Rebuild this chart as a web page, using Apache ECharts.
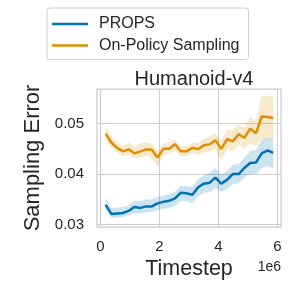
<!DOCTYPE html>
<html>
<head>
<meta charset="utf-8">
<script src="https://cdn.jsdelivr.net/npm/echarts@6/dist/echarts.min.js"></script>
<style>html,body{margin:0;padding:0;background:#fff}#c{width:300px;height:300px}</style>
</head>
<body>
<div id="c"></div>
<script>
// Timesteps (in units of 1e6)
var timesteps = [0.18,0.38,0.57,0.77,0.96,1.16,1.36,1.55,1.75,1.94,2.14,2.34,2.53,2.73,2.92,3.12,3.32,3.51,3.71,3.90,4.10,4.30,4.49,4.69,4.88,5.08,5.28,5.47,5.67,5.86];

var propsMean = [0.0339,0.0321,0.0322,0.0323,0.0327,0.0335,0.0333,0.0336,0.0336,0.0342,0.0345,0.0347,0.0352,0.0363,0.0362,0.0359,0.0374,0.0381,0.0383,0.0393,0.0381,0.0389,0.0400,0.0400,0.0412,0.0422,0.0423,0.0441,0.0447,0.0442];
var propsLow  = [0.0329,0.0313,0.0314,0.0315,0.0318,0.0323,0.0322,0.0324,0.0325,0.0329,0.0331,0.0333,0.0337,0.0347,0.0346,0.0342,0.0355,0.0363,0.0364,0.0372,0.0365,0.0370,0.0380,0.0382,0.0393,0.0400,0.0400,0.0412,0.0415,0.0411];
var propsHigh = [0.0352,0.0333,0.0334,0.0335,0.0338,0.0347,0.0346,0.0350,0.0350,0.0355,0.0357,0.0360,0.0365,0.0377,0.0376,0.0375,0.0390,0.0397,0.0402,0.0412,0.0398,0.0407,0.0418,0.0420,0.0432,0.0445,0.0448,0.0468,0.0472,0.0470];

var onPolicyMean = [0.0480,0.0462,0.0452,0.0445,0.0449,0.0441,0.0445,0.0449,0.0448,0.0433,0.0450,0.0450,0.0459,0.0445,0.0445,0.0452,0.0449,0.0457,0.0459,0.0467,0.0450,0.0469,0.0465,0.0479,0.0472,0.0490,0.0481,0.0514,0.0513,0.0511];
var onPolicyLow  = [0.0467,0.0452,0.0443,0.0436,0.0438,0.0432,0.0433,0.0436,0.0433,0.0414,0.0437,0.0440,0.0446,0.0436,0.0436,0.0442,0.0438,0.0443,0.0444,0.0450,0.0428,0.0450,0.0446,0.0458,0.0450,0.0462,0.0455,0.0470,0.0470,0.0468];
var onPolicyHigh = [0.0493,0.0475,0.0462,0.0455,0.0463,0.0452,0.0462,0.0463,0.0460,0.0446,0.0461,0.0463,0.0468,0.0456,0.0455,0.0462,0.0462,0.0470,0.0475,0.0482,0.0466,0.0488,0.0488,0.0498,0.0492,0.0512,0.0505,0.0555,0.0556,0.0552];

var xTicks = [0, 2, 4, 6];
var yTicks = [0.03, 0.04, 0.05];

var seriesNames = ['PROPS', 'On-Policy Sampling'];
var colors = ['#0173b2', '#de8f05'];
var bandColors = ['rgba(1,115,178,0.2)', 'rgba(222,143,5,0.2)'];

function pairs(xs, ys) { return xs.map(function (x, i) { return [x, ys[i]]; }); }

function bandSeries(low, high, color) {
  return {
    type: 'custom',
    silent: true,
    z: 1,
    data: [[timesteps[0], low[0]]],
    renderItem: function (params, api) {
      var pts = [];
      for (var i = 0; i < timesteps.length; i++) pts.push(api.coord([timesteps[i], high[i]]));
      for (var j = timesteps.length - 1; j >= 0; j--) pts.push(api.coord([timesteps[j], low[j]]));
      return { type: 'polygon', shape: { points: pts }, style: { fill: color } };
    }
  };
}

var textColor = '#262626';
var chart = echarts.init(document.getElementById('c'), null, { renderer: 'canvas' });
chart.setOption({
  animation: false,
  backgroundColor: '#ffffff',
  title: {
    text: 'Humanoid-v4',
    left: 189, top: 64, textAlign: 'center',
    textStyle: { fontFamily: 'Liberation Sans', fontSize: 20, fontWeight: 'normal', color: textColor }
  },
  legend: {
    data: seriesNames,
    orient: 'vertical',
    left: 47, top: 8,
    padding: [7, 9, 5, 5],
    icon: 'rect',
    itemWidth: 36, itemHeight: 2.5, itemGap: 3.6,
    backgroundColor: '#ffffff',
    borderColor: '#cccccc', borderWidth: 1, borderRadius: 3,
    textStyle: { fontFamily: 'Liberation Sans', fontSize: 16, lineHeight: 18, color: textColor, padding: [0, 0, 0, 6] }
  },
  grid: { left: 97, right: 19, top: 89, bottom: 73, show: true, borderColor: '#cccccc', borderWidth: 1.25, backgroundColor: '#ffffff' },
  xAxis: {
    type: 'value', min: -0.112, max: 6.125,
    name: 'Timestep', nameLocation: 'middle', nameGap: 31,
    nameTextStyle: { fontFamily: 'Liberation Sans', fontSize: 21.5, color: textColor },
    axisLine: { show: false }, axisTick: { show: false, customValues: xTicks },
    axisLabel: { customValues: xTicks, margin: 12, fontFamily: 'Liberation Sans', fontSize: 15, color: textColor },
    splitLine: { show: true, lineStyle: { color: '#cccccc', width: 1 } }
  },
  yAxis: {
    type: 'value', min: 0.02952, max: 0.05685,
    name: 'Sampling Error', nameLocation: 'middle', nameGap: 51,
    nameTextStyle: { fontFamily: 'Liberation Sans', fontSize: 22, color: textColor },
    axisLine: { show: false }, axisTick: { show: false, customValues: yTicks },
    axisLabel: { customValues: yTicks, margin: 13, fontFamily: 'Liberation Sans', fontSize: 15, color: textColor,
      formatter: function (v) { return v.toFixed(2); } },
    splitLine: { show: true, lineStyle: { color: '#cccccc', width: 1 } }
  },
  graphic: [{
    type: 'text', right: 19, top: 260,
    style: { text: '1e6', fontFamily: 'Liberation Sans', fontSize: 14, fill: textColor }
  }],
  series: [
    bandSeries(propsLow, propsHigh, bandColors[0]),
    bandSeries(onPolicyLow, onPolicyHigh, bandColors[1]),
    { name: seriesNames[0], type: 'line', data: pairs(timesteps, propsMean), symbol: 'none', showSymbol: false, z: 3,
      lineStyle: { color: colors[0], width: 2.5 }, itemStyle: { color: colors[0] } },
    { name: seriesNames[1], type: 'line', data: pairs(timesteps, onPolicyMean), symbol: 'none', showSymbol: false, z: 3,
      lineStyle: { color: colors[1], width: 2.5 }, itemStyle: { color: colors[1] } }
  ]
});
</script>
</body>
</html>
